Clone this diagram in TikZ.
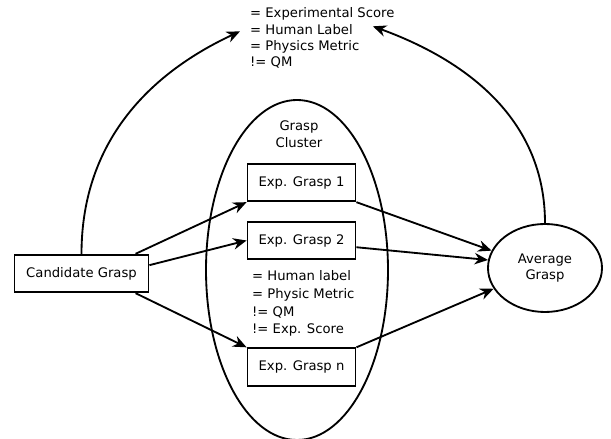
\documentclass[tikz,border=0pt]{standalone}
\usepackage{fontspec}
\setmainfont{DejaVu Sans}
\usetikzlibrary{arrows.meta}
\usetikzlibrary{positioning}
\usetikzlibrary{shapes.geometric}

\tikzset{
  lbl/.style={font=\fontsize{15}{18}\selectfont},
  graspbox/.style={lbl,rectangle,draw,line width=2.1pt,minimum height=1.5cm},
  link/.style={line width=2.1pt,-{Stealth[length=5.4mm,width=4.6mm]}},
  note/.style={lbl,inner sep=0pt,anchor=base west},
}

\begin{document}
\begin{tikzpicture}
\useasboundingbox (0,0) rectangle (24.44,17.56);

% grasp cluster
\node[ellipse,draw,line width=2.1pt,minimum width=7.28cm,minimum height=13.6cm] (cluster) at (11.88,6.76) {};
\node[align=center,font=\fontsize{15}{19.3}\selectfont] (clusterlbl) at (11.96,12.18) {Grasp\\Cluster};

\node[graspbox,minimum width=5.36cm] (cand) at (3.26,6.62) {Candidate Grasp};
\node[graspbox,minimum width=4.32cm] (exp1) at (12.06,10.26) {Exp. Grasp 1};
\node[graspbox,minimum width=4.32cm] (exp2) at (12.06,7.94) {Exp. Grasp 2};
\node[graspbox,minimum width=4.32cm] (expn) at (12.06,2.88) {Exp. Grasp n};
\node[ellipse,draw,line width=2.1pt,minimum width=4.56cm,minimum height=3.52cm,align=center,font=\fontsize{15}{19}\selectfont] (avg) at (21.8,6.84) {Average\\Grasp};

% notes
\foreach \txt [count=\i] in {= Experimental Score, = Human Label, = Physics Metric, != QM}
  \node[note] (s\i) at (10.0,17.49-0.65*\i) {\txt};
\foreach \txt [count=\i] in {= Human label, = Physic Metric, != QM, != Exp. Score}
  \node[note] (m\i) at (10.08,7.03-0.707*\i) {\txt};

\coordinate (lefttip) at ([xshift=-0.4cm,yshift=-0.08cm]s2.west);
\coordinate (righttip) at ([xshift=0.8cm,yshift=0.12cm]s2.east);

% connectors
\draw[link] (cand.20) -- (exp1.south west);
\draw[link] (cand.7) -- (exp2.west);
\draw[link] (cand.-20) -- (expn.north west);
\draw[link] (exp1.south east) -- (avg.162);
\draw[link] (exp2.-7) -- (avg.172);
\draw[link] (expn.north east) -- (avg.202);
\draw[link] (cand.north) to[out=90,in=205] (lefttip);
\draw[link] (avg.north) to[out=90,in=-20] (righttip);

\end{tikzpicture}
\end{document}
